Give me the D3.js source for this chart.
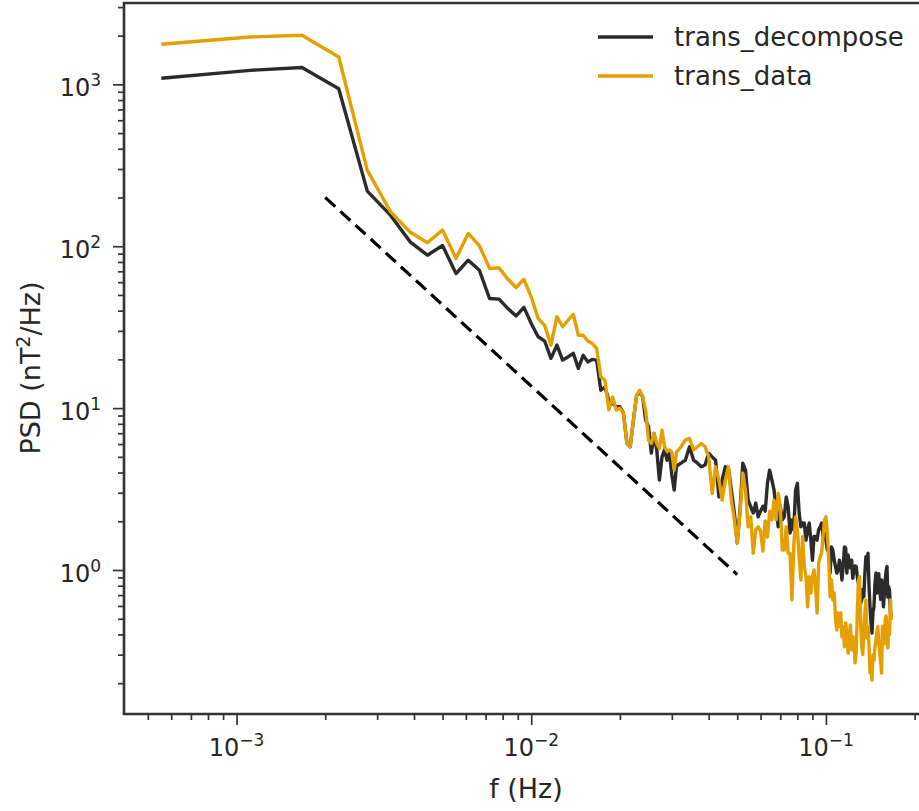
<!DOCTYPE html>
<html><head><meta charset="utf-8">
<script src="https://cdn.jsdelivr.net/npm/d3@7"></script>
<style>
body{margin:0;background:#fff}
svg{display:block}
text{font-family:"DejaVu Sans",sans-serif;fill:#262626}
</style>
</head><body><svg id="c" width="919" height="811"></svg>
<script>
// Frequency grid: FFT bin index times bin width (Hz)
const binWidthHz = 1 / 1800;
const bins = [
  1,2,3,4,5,6,7,8,9,10,
  11,12,13,14,15,16,17,18,19,20,
  21,22,23,24,25,26,27,28,29,30,
  31,32,33,34,35,36,37,38,39,40,
  41,42,43,44,45,46,47,48,49,50,
  51,52,53,54,55,56,
  58,60,62,64,66,68,70,72,74,76,
  78,80,82,84,86,88,90,92,94,96,
  98,100,102,104,106,108,110,112,114,116,
  118,120,122,124,126,128,130,132,134,136,
  138,140,142,144,146,148,150,152,154,156,
  158,160,162,164,166,168,170,172,174,176,
  178,180,182,184,186,188,190,192,194,196,
  198,200,202,204,206,208,210,212,214,216,
  218,220,222,224,226,228,230,232,234,236,
  238,240,242,244,246,248,250,252,254,256,
  258,260,262,264,266,268,270,272,274,276,
  278,280,282,284,286,288,290,292,294,296,
  298,300
];
const transDecompose = [
  1090,1220,1270,940,219,155,106,88,101,67.8,
  82,71.1,47.5,47.1,41.2,37.1,41.9,33.3,27.6,25.9,
  20.3,24.5,19.8,20.7,21.8,17.6,21.2,19.3,20.0,19.8,
  12.9,13.5,11.2,10.7,10.2,10.2,9.31,6.08,5.77,8.43,
  12.0,12.6,11.7,8.43,7.67,5.27,6.98,5.51,3.59,5.0,
  5.51,4.77,5.27,3.86,3.12,4.39,
  4.57,4.77,5.77,4.77,4.57,4.34,4.45,5.27,5.0,4.77,
  2.83,3.59,4.34,4.26,3.12,2.25,1.47,2.35,4.57,4.14,
  2.70,2.46,2.25,2.59,2.13,2.31,2.48,2.31,3.44,4.14,
  3.59,3.12,2.35,1.85,2.46,2.04,2.13,2.83,2.46,1.69,
  2.04,1.77,3.12,3.43,2.25,1.85,1.95,1.95,1.53,1.77,
  1.95,1.53,1.15,1.61,1.61,1.53,1.77,1.85,1.95,1.61,
  1.69,1.53,1.33,1.33,0.958,1.39,1.33,1.15,1.05,0.958,
  1.0,1.15,1.05,0.868,1.06,1.39,1.37,0.958,1.24,1.10,
  1.03,1.15,0.89,1.0,1.06,1.05,0.91,0.83,0.753,0.62,
  0.653,0.76,0.684,0.95,1.21,1.05,1.27,0.80,0.593,0.47,
  0.408,0.55,0.593,0.82,0.958,0.72,0.828,0.95,0.753,0.66,
  0.868,0.78,0.593,0.70,0.868,0.98,1.05,0.68,0.789,0.74,
  0.543,0.515
];
const transData = [
  1770,1960,2010,1475,294,163,122,105,126,84,
  120,101,72.8,73.5,62.5,55.6,62.5,48.6,35.8,32.3,
  24.5,36.7,31.8,34.9,38.0,28.2,28.2,26.0,25.1,23.4,
  15.6,14.9,9.72,11.7,9.72,10.0,9.31,6.08,5.77,8.43,
  12.0,12.9,11.7,9.72,6.34,6.05,6.98,6.05,5.64,7.31,
  5.77,5.43,5.51,5.35,4.14,5.35,
  5.77,6.34,6.50,5.51,5.77,6.05,5.77,5.0,2.97,4.34,
  3.59,2.70,3.59,4.34,2.70,2.04,1.47,2.25,3.97,3.12,
  1.85,2.13,1.27,1.77,1.85,1.74,1.31,2.01,1.60,2.31,
  2.04,2.70,2.04,2.97,2.46,1.33,1.33,1.85,1.27,1.27,
  0.653,1.39,2.13,1.77,1.21,0.868,1.61,1.05,0.91,0.593,
  0.91,0.721,0.91,1.0,0.789,0.543,1.10,1.21,1.27,1.61,
  2.04,2.13,1.69,1.15,0.684,0.868,0.653,0.721,0.491,0.426,
  0.543,0.447,0.543,0.388,0.447,0.336,0.471,0.408,0.307,0.388,
  0.457,0.321,0.388,0.370,0.267,0.31,0.55,0.85,0.91,0.48,
  0.34,0.30,0.408,0.55,0.653,0.38,0.447,0.34,0.231,0.25,
  0.209,0.30,0.278,0.33,0.370,0.42,0.447,0.36,0.307,0.27,
  0.231,0.45,0.408,0.35,0.491,0.52,0.426,0.33,0.447,0.40,
  0.653,0.491
];
// Reference power-law guide (f^-5/3) endpoints
const refLineFreq = [0.002, 0.05];
const refLinePSD = [200, 0.936];

const seriesNames = ["trans_decompose", "trans_data"];
const seriesColors = ["#2b2b2b", "#e69f00"];
const xMajorTicks = [1e-3, 1e-2, 1e-1];
const xTickExponents = ["\u22123", "\u22122", "\u22121"];
const yMajorTicks = [1, 10, 100, 1000];
const yTickExponents = ["0", "1", "2", "3"];
const xLabel = "f (Hz)";

const svg = d3.select("#c");
const L = 124, R = 928, T = 3, B = 714;
const x = d3.scaleLog().domain([4.15e-4, 0.222]).range([L, R]);
const y = d3.scaleLog().domain([0.129, 3180]).range([B, T]);
const axisColor = "#333";

function minorTicks(dom) {
  const out = [];
  for (let e = -5; e <= 4; e++) for (let m = 2; m <= 9; m++) {
    const v = m * Math.pow(10, e);
    if (v >= dom[0] && v <= dom[1]) out.push(v);
  }
  return out;
}

function styleAxis(g) {
  g.select(".domain").remove();
  g.selectAll(".tick line").attr("stroke", axisColor).attr("stroke-width", 1.7);
  g.selectAll(".tick text").remove();
}
svg.append("g").attr("transform", `translate(0,${B})`)
  .call(d3.axisBottom(x).tickValues(minorTicks(x.domain())).tickSize(6).tickFormat(""))
  .call(styleAxis);
svg.append("g").attr("transform", `translate(0,${B})`)
  .call(d3.axisBottom(x).tickValues(xMajorTicks).tickSize(11).tickFormat(""))
  .call(styleAxis);
svg.append("g").attr("transform", `translate(${L},0)`)
  .call(d3.axisLeft(y).tickValues(minorTicks(y.domain())).tickSize(6).tickFormat(""))
  .call(styleAxis);
svg.append("g").attr("transform", `translate(${L},0)`)
  .call(d3.axisLeft(y).tickValues(yMajorTicks).tickSize(11).tickFormat(""))
  .call(styleAxis);

// tick labels
xMajorTicks.forEach((v, i) => {
  const t = svg.append("text").attr("x", x(v)).attr("y", 756)
    .attr("text-anchor", "middle").style("font-size", "24px");
  t.append("tspan").text("10");
  t.append("tspan").attr("dy", -10).style("font-size", "17px").text(xTickExponents[i]);
});
yMajorTicks.forEach((v, i) => {
  const t = svg.append("text").attr("x", 101).attr("y", y(v) + 12)
    .attr("text-anchor", "end").style("font-size", "24px");
  t.append("tspan").text("10");
  t.append("tspan").attr("dy", -10).style("font-size", "17px").text(yTickExponents[i]);
});

// axis labels
svg.append("text").attr("x", (L + R) / 2).attr("y", 798)
  .attr("text-anchor", "middle").style("font-size", "27px").text(xLabel);
const yl = svg.append("text").attr("transform", `translate(40,368) rotate(-90)`)
  .attr("text-anchor", "middle").style("font-size", "27px");
yl.append("tspan").text("PSD (nT");
yl.append("tspan").attr("dy", -10).style("font-size", "19px").text("2");
yl.append("tspan").attr("dy", 10).text("/Hz)");

// series
const line = d3.line().x(d => x(d[0])).y(d => y(d[1]));
const freqs = bins.map(b => b * binWidthHz);
[transDecompose, transData].forEach((vals, i) => {
  svg.append("path").datum(freqs.map((f, j) => [f, vals[j]]))
    .attr("d", line).attr("fill", "none")
    .attr("stroke", seriesColors[i]).attr("stroke-width", 3.4)
    .attr("stroke-linejoin", "round");
});

// reference dashed line
svg.append("path").datum(refLineFreq.map((f, j) => [f, refLinePSD[j]]))
  .attr("d", line).attr("fill", "none").attr("stroke", "#000")
  .attr("stroke-width", 3.2).attr("stroke-dasharray", "13.5,7");

// spines
svg.append("path").attr("d", `M${R},${T}H${L}V${B}H${R}`)
  .attr("fill", "none").attr("stroke", axisColor).attr("stroke-width", 2.6);

// legend
const lg = svg.append("g");
seriesNames.forEach((n, i) => {
  const yy = 37 + i * 39;
  lg.append("line").attr("x1", 598).attr("x2", 653).attr("y1", yy).attr("y2", yy)
    .attr("stroke", seriesColors[i]).attr("stroke-width", 3.4);
  lg.append("text").attr("x", 674).attr("y", yy + 9).style("font-size", "26px").text(n);
});
</script>
</body></html>
